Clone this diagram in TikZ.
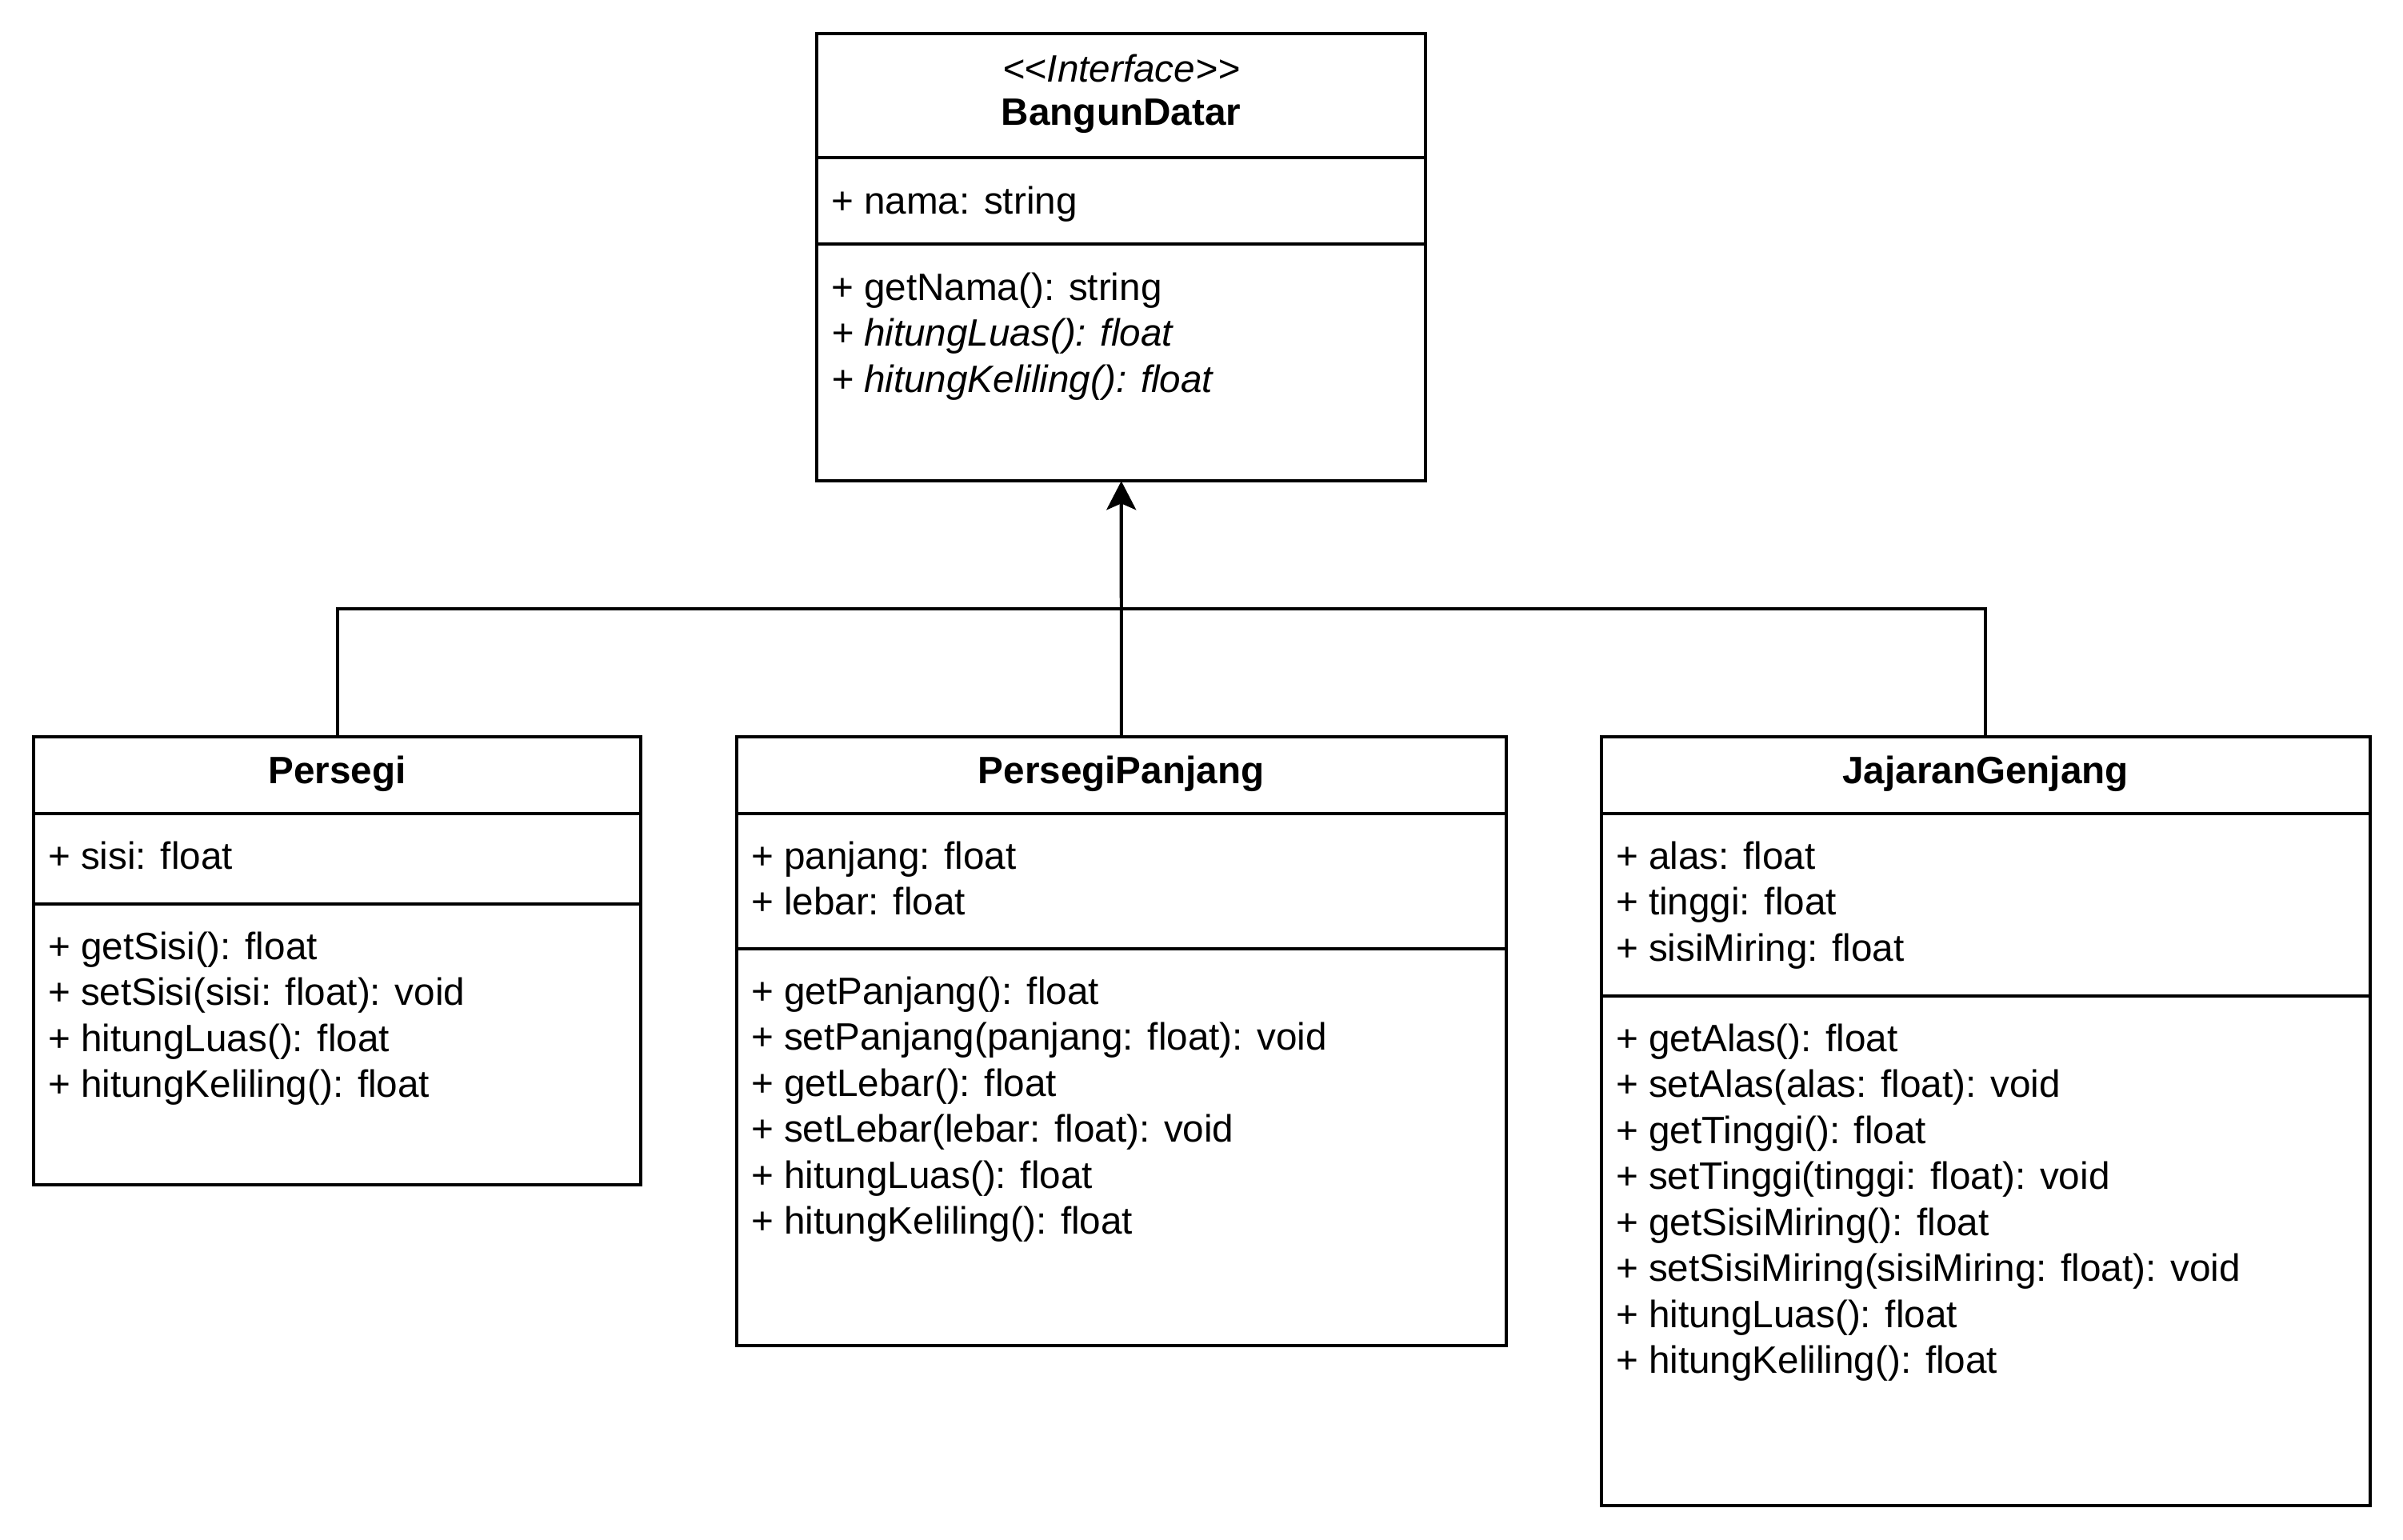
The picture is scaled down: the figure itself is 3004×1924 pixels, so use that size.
\documentclass[tikz,border=0pt]{standalone}
\usepackage{fontspec}
\setmainfont{Liberation Sans}
\usetikzlibrary{arrows.meta}
\begin{document}
\begin{tikzpicture}[x=0.01cm,y=-0.01cm,line width=1.15pt,
  box/.style={draw, anchor=north west, inner sep=0pt, outer sep=0pt},
  txt/.style={anchor=base west, inner sep=0pt, font=\fontsize{13.55pt}{16pt}\selectfont},
  ttl/.style={anchor=base, inner sep=0pt, font=\fontsize{13.55pt}{16pt}\selectfont\bfseries},
  inh/.style={-{Stealth[length=0.36cm,width=0.37cm,inset=0.08cm]}}]
\useasboundingbox (0,0) rectangle (3004,1924);

% BangunDatar
\node[box, minimum width=7.61cm, minimum height=5.59cm] (bd) at (1021,42) {};
\draw (1021,197) -- (1782,197);
\draw (1021,305) -- (1782,305);
\node[anchor=base, inner sep=0pt, font=\fontsize{13.55pt}{16pt}\selectfont\itshape] (bdst) at (1401.5,102) {<\kern0pt<Interface>\kern0pt>};
\node[ttl] (bdt) at (1401.5,156) {BangunDatar};
\node[txt] (bda1) at (1037,267) {+ nama: string};
\foreach \s [count=\i] in {{+ getNama(): string},{\itshape + hitungLuas(): float},{\itshape + hitungKeliling(): float}}
  \node[txt] (bdm\i) at (1037,{375+57.5*(\i-1)}) {\s};

% Persegi
\node[box, minimum width=7.59cm, minimum height=5.60cm] (ps) at (42,921) {};
\draw (42,1017) -- (801,1017);
\draw (42,1130) -- (801,1130);
\node[ttl] (pst) at (421.5,979) {Persegi};
\node[txt] (psa1) at (58,1086) {+ sisi: float};
\foreach \s [count=\i] in {{+ getSisi(): float},{+ setSisi(sisi: float): void},{+ hitungLuas(): float},{+ hitungKeliling(): float}}
  \node[txt] (psm\i) at (58,{1199+57.5*(\i-1)}) {\s};

% PersegiPanjang
\node[box, minimum width=9.61cm, minimum height=7.61cm] (pp) at (921,921) {};
\draw (921,1017) -- (1882,1017);
\draw (921,1186) -- (1882,1186);
\node[ttl] (ppt) at (1401.5,979) {PersegiPanjang};
\foreach \s [count=\i] in {{+ panjang: float},{+ lebar: float}}
  \node[txt] (ppa\i) at (937,{1086+57.5*(\i-1)}) {\s};
\foreach \s [count=\i] in {{+ getPanjang(): float},{+ setPanjang(panjang: float): void},{+ getLebar(): float},{+ setLebar(lebar: float): void},{+ hitungLuas(): float},{+ hitungKeliling(): float}}
  \node[txt] (ppm\i) at (937,{1255+57.5*(\i-1)}) {\s};

% JajaranGenjang
\node[box, minimum width=9.60cm, minimum height=9.60cm] (jg) at (2002,921) {};
\draw (2002,1017) -- (2962,1017);
\draw (2002,1245) -- (2962,1245);
\node[ttl] (jgt) at (2482,979) {JajaranGenjang};
\foreach \s [count=\i] in {{+ alas: float},{+ tinggi: float},{+ sisiMiring: float}}
  \node[txt] (jga\i) at (2018,{1086+57.5*(\i-1)}) {\s};
\foreach \s [count=\i] in {{+ getAlas(): float},{+ setAlas(alas: float): void},{+ getTinggi(): float},{+ setTinggi(tinggi: float): void},{+ getSisiMiring(): float},{+ setSisiMiring(sisiMiring: float): void},{+ hitungLuas(): float},{+ hitungKeliling(): float}}
  \node[txt] (jgm\i) at (2018,{1314+57.5*(\i-1)}) {\s};

% connectors
\coordinate (bar) at (1401.5,761);
\draw[inh] (pp.north) -- (bd.south);
\draw (ps.north) |- (bar) -| (jg.north);
\end{tikzpicture}
\end{document}
